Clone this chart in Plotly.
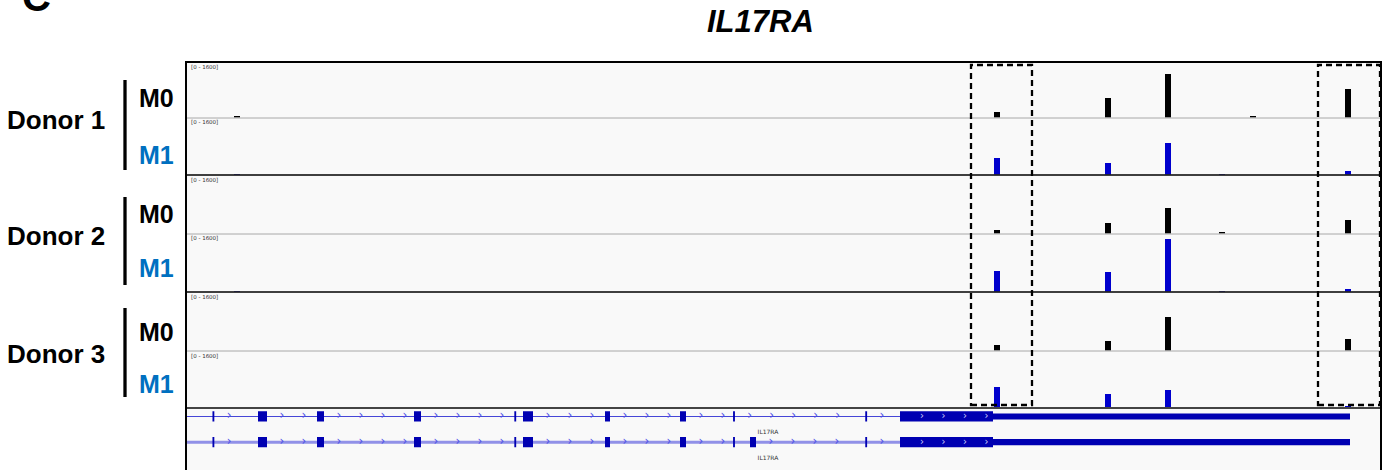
import plotly.graph_objects as go

# ---------------- data ----------------
view_start, view_end = 17084225, 17116490   # chr22 window (bp)
tracks = ["Donor 1 M0", "Donor 1 M1", "Donor 2 M0", "Donor 2 M1", "Donor 3 M0", "Donor 3 M1"]
data_range_max = 1600

peak_pos = [17085602, 17106122, 17109119, 17110739, 17112197, 17113034, 17115599]
d1_m0 = [25, 148, 563, 1265, 0, 28, 841]
d1_m1 = [25, 477, 351, 923, 25, 0, 106]
d2_m0 = [0, 119, 303, 717, 28, 0, 386]
d2_m1 = [25, 589, 570, 1488, 20, 0, 95]
d3_m0 = [0, 157, 276, 938, 0, 0, 323]
d3_m1 = [0, 589, 409, 514, 0, 0, 57]
track_values = [d1_m0, d1_m1, d2_m0, d2_m1, d3_m0, d3_m1]
peak_width = 165

# gene model (IL17RA)
tx_start = 17084000
exons_t1 = [(17084940, 17084990), (17086169, 17086412), (17087762, 17087951),
            (17090381, 17090570), (17093090, 17093140), (17093324, 17093594),
            (17095538, 17095673), (17097563, 17097725), (17098996, 17099046),
            (17102565, 17102615), (17103503, 17106014)]
exons_t2 = exons_t1[:9] + [(17099453, 17099615)] + exons_t1[9:]
utr = (17106014, 17115653)
gene_name = "IL17RA"
label_pos = 17099939

# highlighted regions (dashed boxes)
boxes = [(17105420, 17107067), (17114789, 17116463)]

# ---------------- layout helpers ----------------
W, H = 1389, 470
L, R, T, B = 186, 8, 62, 0
PW, PH = W - L - R, H - T - B


def px2x(px):
    return (px - L) / PW


def px2y(py):
    return (H - B - py) / PH


track_tops = [63, 118.5, 175.5, 234.5, 292.5, 351.5]
track_bottoms = [117.5, 174.5, 233.5, 291.5, 350.5, 407.5]
gene_top = 408.5

BLACK = "#000000"
BLUE = "rgb(0,0,205)"
track_colors = [BLACK, BLUE, BLACK, BLUE, BLACK, BLUE]
GENE = "rgb(0,0,178)"

fig = go.Figure()
layout_axes = {}
for i, (name, vals) in enumerate(zip(tracks, track_values)):
    ya = "y" if i == 0 else f"y{i+1}"
    fig.add_trace(go.Bar(x=peak_pos, y=vals, width=peak_width, name=name,
                         marker=dict(color=track_colors[i], line=dict(width=0)),
                         xaxis="x", yaxis=ya, showlegend=False, hoverinfo="x+y"))
    key = "yaxis" if i == 0 else f"yaxis{i+1}"
    layout_axes[key] = dict(domain=[px2y(track_bottoms[i]), px2y(track_tops[i])],
                            range=[0, data_range_max], anchor="x",
                            visible=False, fixedrange=True)

gene_axis = "y7"
layout_axes["yaxis7"] = dict(domain=[0, px2y(gene_top)], range=[2.08, -0.31],
                             anchor="x", visible=False)

shapes = []
shapes.append(dict(type="rect", xref="paper", yref="paper", x0=0, x1=1, y0=0, y1=1,
                   fillcolor="#f9f9f9", line=dict(width=0), layer="below"))


def rect_path(s, e, yc, h):
    return [s, e, e, s, s, None], [yc - h, yc - h, yc + h, yc + h, yc - h, None]


chev_step = 594
for row, exons, lw, lcol in [(0, exons_t1, 1.2, "rgb(70,70,215)"),
                             (1, exons_t2, 3, "rgba(110,110,225,0.75)")]:
    fig.add_trace(go.Scatter(x=[tx_start, utr[1]], y=[row, row], mode="lines",
                             line=dict(color=lcol, width=lw), xaxis="x", yaxis=gene_axis,
                             showlegend=False, hoverinfo="skip"))
    cx = []
    prev_end = tx_start
    for (s, e) in exons:
        p = prev_end + 400
        while p < s - 200:
            if p > view_start + 200:
                cx.append(p)
            p += chev_step
        prev_end = e
    fig.add_trace(go.Scatter(x=cx, y=[row] * len(cx), mode="text", text=["›"] * len(cx),
                             textfont=dict(size=12, color="rgb(80,80,230)", family="DejaVu Sans"),
                             textposition="middle center", xaxis="x", yaxis=gene_axis,
                             showlegend=False, hoverinfo="skip"))
    ex, ey = [], []
    for (s, e) in exons:
        a, b = rect_path(s, e, row, 0.2)
        ex += a
        ey += b
    a, b = rect_path(utr[0], utr[1], row, 0.12)
    ex += a
    ey += b
    fig.add_trace(go.Scatter(x=ex, y=ey, mode="lines", fill="toself", fillcolor=GENE,
                             line=dict(width=0, color=GENE), xaxis="x", yaxis=gene_axis,
                             showlegend=False, hoverinfo="skip"))
    big_s, big_e = exons[-1]
    wx = []
    p = big_s + 594
    while p < big_e:
        wx.append(p)
        p += 580
    fig.add_trace(go.Scatter(x=wx, y=[row] * len(wx), mode="text", text=["›"] * len(wx),
                             textfont=dict(size=10, color="rgb(205,205,250)", family="DejaVu Sans"),
                             textposition="middle center", xaxis="x", yaxis=gene_axis,
                             showlegend=False, hoverinfo="skip"))
    fig.add_trace(go.Scatter(x=[label_pos], y=[row + 0.62], mode="text", text=[gene_name],
                             textfont=dict(size=6, color="#333333", family="DejaVu Sans"),
                             textposition="middle center", xaxis="x", yaxis=gene_axis,
                             showlegend=False, hoverinfo="skip"))

for py, col, w in [(118, "#a8a8a8", 1), (175, "#000000", 1.6), (234, "#a8a8a8", 1),
                   (292, "#000000", 1.6), (351, "#a8a8a8", 1), (408, "#444444", 2)]:
    shapes.append(dict(type="line", xref="paper", yref="paper", x0=0, x1=1,
                       y0=px2y(py), y1=px2y(py), line=dict(color=col, width=w)))

shapes.append(dict(type="rect", xref="paper", yref="paper", x0=0, x1=1, y0=-0.01, y1=1,
                   line=dict(color="#000000", width=2)))

for (s, e) in boxes:
    shapes.append(dict(type="rect", xref="x", yref="paper", x0=s, x1=e,
                       y0=px2y(405), y1=px2y(65),
                       line=dict(color="#000000", width=2.3, dash="6px,4px")))

for top, bot in [(80, 170), (197, 285), (308, 397)]:
    shapes.append(dict(type="line", xref="paper", yref="paper", x0=px2x(125), x1=px2x(125),
                       y0=px2y(top), y1=px2y(bot), line=dict(color="#000000", width=3.3)))

annotations = []
FONT = "Liberation Sans, Arial, sans-serif"
for top in track_tops:
    annotations.append(dict(xref="paper", yref="paper", x=px2x(189), y=px2y(top - 1),
                            text="[0 - 1600]", showarrow=False, xanchor="left", yanchor="top",
                            font=dict(size=5.5, color="#333333", family="DejaVu Sans")))

for lbl, cy in [("Donor 1", 120), ("Donor 2", 236), ("Donor 3", 354)]:
    annotations.append(dict(xref="paper", yref="paper", x=px2x(107), y=px2y(cy),
                            text=f"<b>{lbl}</b>", showarrow=False, xanchor="right", yanchor="middle",
                            font=dict(size=26, color="#000000", family=FONT)))
for lbl, cy, col in [("M0", 98, "#000000"), ("M1", 155, "#0070c0"),
                     ("M0", 214, "#000000"), ("M1", 268, "#0070c0"),
                     ("M0", 332, "#000000"), ("M1", 384, "#0070c0")]:
    annotations.append(dict(xref="paper", yref="paper", x=px2x(137), y=px2y(cy),
                            text=f"<b>{lbl}</b>", showarrow=False, xanchor="left", yanchor="middle",
                            font=dict(size=25, color=col, family=FONT)))

annotations.append(dict(xref="paper", yref="paper", x=px2x(760), y=px2y(22),
                        text="<b><i>IL17RA</i></b>", showarrow=False, xanchor="center", yanchor="middle",
                        font=dict(size=31, color="#000000", family=FONT)))
annotations.append(dict(xref="paper", yref="paper", x=px2x(20), y=px2y(21),
                        text="<b>C</b>", showarrow=False, xanchor="left", yanchor="bottom",
                        font=dict(size=40, color="#000000", family=FONT)))

fig.update_layout(
    width=W, height=H,
    margin=dict(l=L, r=R, t=T, b=B, pad=0),
    paper_bgcolor="white", plot_bgcolor="rgba(0,0,0,0)",
    xaxis=dict(range=[view_start, view_end], visible=False, domain=[0, 1], anchor="y7"),
    barmode="overlay", bargap=0,
    shapes=shapes, annotations=annotations, showlegend=False,
    **layout_axes,
)

fig.write_html("out.html", config={"displayModeBar": False},
               post_script="document.body.style.margin='0';document.body.style.overflow='hidden';")
